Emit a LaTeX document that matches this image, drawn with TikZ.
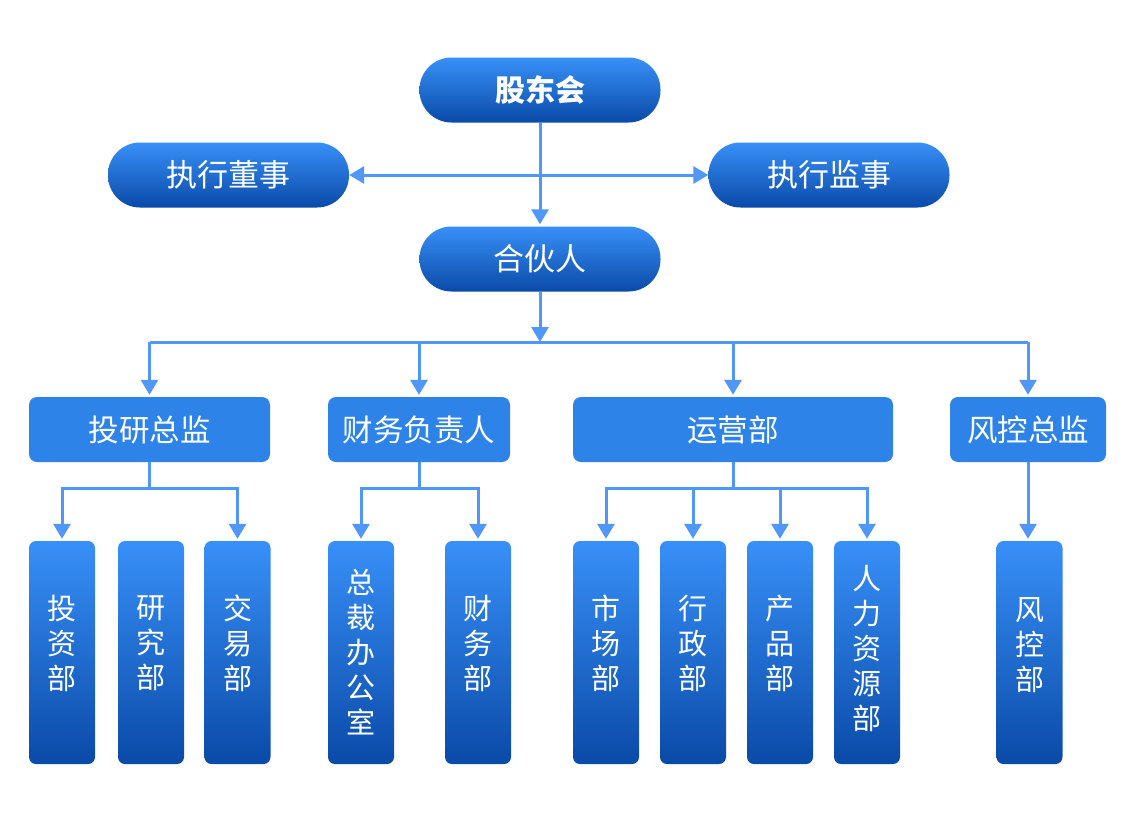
\documentclass[tikz,border=0pt]{standalone}
\usepackage{fontspec}
\newfontfamily\cjk{Noto Sans CJK SC}
\usetikzlibrary{arrows.meta}
\definecolor{gtop}{HTML}{3890F8}
\definecolor{gbot}{HTML}{0A4AA8}
\definecolor{midc}{HTML}{2E83E9}
\definecolor{lnc}{HTML}{5097F8}
\begin{document}
\begin{tikzpicture}[x=1pt,y=-1pt,
  pill/.style={rounded corners=32pt, top color=gtop, bottom color=gbot, minimum width=241pt, minimum height=65pt, text=white, inner sep=0pt, font=\cjk\fontsize{31}{33}\selectfont},
  mgr/.style={fill=midc, rounded corners=8pt, minimum height=65pt, text=white, inner sep=0pt, font=\cjk\fontsize{30.5}{33}\selectfont},
  dept/.style={rounded corners=7pt, top color=gtop, bottom color=gbot, minimum width=66pt, minimum height=223pt, inner sep=0pt},
  depttext/.style={text=white, inner sep=0pt, align=center, font=\cjk\fontsize{29}{35}\selectfont},
  conn/.style={draw=lnc, line width=3pt},
  arr/.style={conn, -{Triangle[length=15pt,width=17pt]}, shorten >=2pt},
]
\useasboundingbox (0,0) rectangle (1125,822);
% top levels
\node[pill, font=\cjk\bfseries\fontsize{30}{33}\selectfont] (gd) at (540,90) {股东会};
\node[pill] (dsh) at (228.5,175) {执行董事};
\node[pill] (jsh) at (829,175) {执行监事};
\node[pill] (hh) at (540,259) {合伙人};
% managers
\node[mgr, minimum width=241pt] (m1) at (149.5,429.5) {投研总监};
\node[mgr, minimum width=182pt] (m2) at (419,429.5) {财务负责人};
\node[mgr, minimum width=320pt] (m3) at (733,429.5) {运营部};
\node[mgr, minimum width=156pt] (m4) at (1028,429.5) {风控总监};
% departments
\node[dept] (d1) at (62,652.5) {};
\node[dept] (d2) at (151,652.5) {};
\node[dept] (d3) at (237.5,652.5) {};
\node[dept] (d4) at (361,652.5) {};
\node[dept] (d5) at (478,652.5) {};
\node[dept] (d6) at (606,652.5) {};
\node[dept] (d7) at (693,652.5) {};
\node[dept] (d8) at (780,652.5) {};
\node[dept] (d9) at (867,652.5) {};
\node[dept] (d10) at (1029.5,652.5) {};
\node[depttext] (t1) at ([yshift=9pt]d1.center) {投\\资\\部};
\node[depttext] (t2) at ([yshift=9pt]d2.center) {研\\究\\部};
\node[depttext] (t3) at ([yshift=9pt]d3.center) {交\\易\\部};
\node[depttext] (t4) at (d4.center) {总\\裁\\办\\公\\室};
\node[depttext] (t5) at ([yshift=9pt]d5.center) {财\\务\\部};
\node[depttext] (t6) at ([yshift=9pt]d6.center) {市\\场\\部};
\node[depttext] (t7) at ([yshift=9pt]d7.center) {行\\政\\部};
\node[depttext] (t8) at ([yshift=9pt]d8.center) {产\\品\\部};
\node[depttext] (t9) at ([yshift=4pt]d9.center) {人\\力\\资\\源\\部};
\node[depttext] (t10) at ([yshift=7pt]d10.center) {风\\控\\部};
% connectors top
\draw[arr] (gd.south) -- (hh.north);
\draw[conn, {Triangle[length=15pt,width=17pt]}-{Triangle[length=15pt,width=17pt]}] (dsh.east) -- (jsh.west);
\coordinate (bus) at (540,342);
\draw[arr, shorten >=0pt] (hh.south) -- (bus);
\draw[conn] (m1.north |- bus) -- (m4.north |- bus);
\foreach \m in {m1,m2,m3,m4}{\draw[arr] (\m.north |- bus) -- (\m.north);}
% connectors to departments
\coordinate (j1) at (m1.south |- 0,488);
\coordinate (j2) at (m2.south |- 0,488);
\coordinate (j3) at (m3.south |- 0,488);
\draw[conn] (m1.south) -- (j1);
\draw[conn] (m2.south) -- (j2);
\draw[conn] (m3.south) -- (j3);
\draw[arr] (j1) -| (d1.north);
\draw[arr] (j1) -| (d3.north);
\draw[arr] (j2) -| (d4.north);
\draw[arr] (j2) -| (d5.north);
\draw[arr] (j3) -| (d6.north);
\draw[arr] (j3) -| (d7.north);
\draw[arr] (j3) -| (d8.north);
\draw[arr] (j3) -| (d9.north);
\draw[arr] (m4.south) -- (m4.south |- d10.north);
\end{tikzpicture}
\end{document}
